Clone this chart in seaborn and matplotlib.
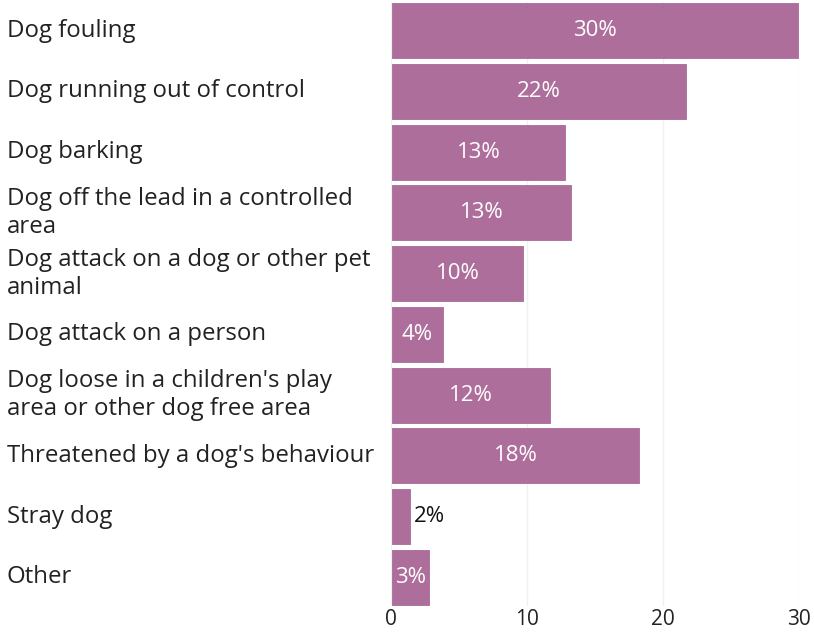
import matplotlib
matplotlib.use("Agg")
import matplotlib.pyplot as plt
import seaborn as sns
import pandas as pd

categories = [
    "Dog fouling",
    "Dog running out of control",
    "Dog barking",
    "Dog off the lead in a controlled\narea",
    "Dog attack on a dog or other pet\nanimal",
    "Dog attack on a person",
    "Dog loose in a children's play\narea or other dog free area",
    "Threatened by a dog's behaviour",
    "Stray dog",
    "Other",
]
values = [30.0, 21.8, 12.9, 13.3, 9.8, 3.9, 11.8, 18.3, 1.5, 2.9]
x_ticks = [0, 10, 20, 30]

sns.set_theme(style="white")
plt.rcParams["font.family"] = ["Open Sans", "DejaVu Sans"]

df = pd.DataFrame({"category": categories, "value": values})

W, H = 814, 637
fig = plt.figure(figsize=(W / 100, H / 100), dpi=100)
ax = fig.add_axes([391 / W, 31 / H, 408 / W, 604 / H])

bar_color = "#ad6e9c"
sns.barplot(data=df, y="category", x="value", orient="h", color=bar_color,
            width=0.94, saturation=1, edgecolor="white", linewidth=0.8, ax=ax)

ax.set_xlim(0, 30)
ax.set_ylim(len(categories) - 0.5 - 0.03, -0.5 + 0.03)
ax.set_xticks(x_ticks)
ax.set_xticklabels([str(t) for t in x_ticks], fontsize=15, color="#222222")
ax.tick_params(axis="x", length=0, pad=2)
ax.set_yticks([])
ax.set_xlabel("")
ax.set_ylabel("")
for s in ax.spines.values():
    s.set_visible(False)

# faint vertical grid drawn over the bars
for t in x_ticks:
    ax.axvline(t, color="#888888", alpha=0.12, linewidth=1, zorder=5)

# category labels, left aligned near the figure edge
label_x = (7 - 391) / 408 * 30
for i, cat in enumerate(categories):
    ax.text(label_x, i, cat, fontsize=17.3, color="#222222", ha="left",
            va="center", linespacing=1.22, clip_on=False)

# value labels
for i, v in enumerate(values):
    lbl = f"{round(v):d}%"
    if v < 2:
        ax.text(v + 0.2, i, lbl, ha="left", va="center", fontsize=16,
                color="#111111", zorder=6)
    else:
        ax.text(v / 2, i, lbl, ha="center", va="center", fontsize=16,
                color="white", zorder=6)

fig.savefig("out.png", dpi=100)
